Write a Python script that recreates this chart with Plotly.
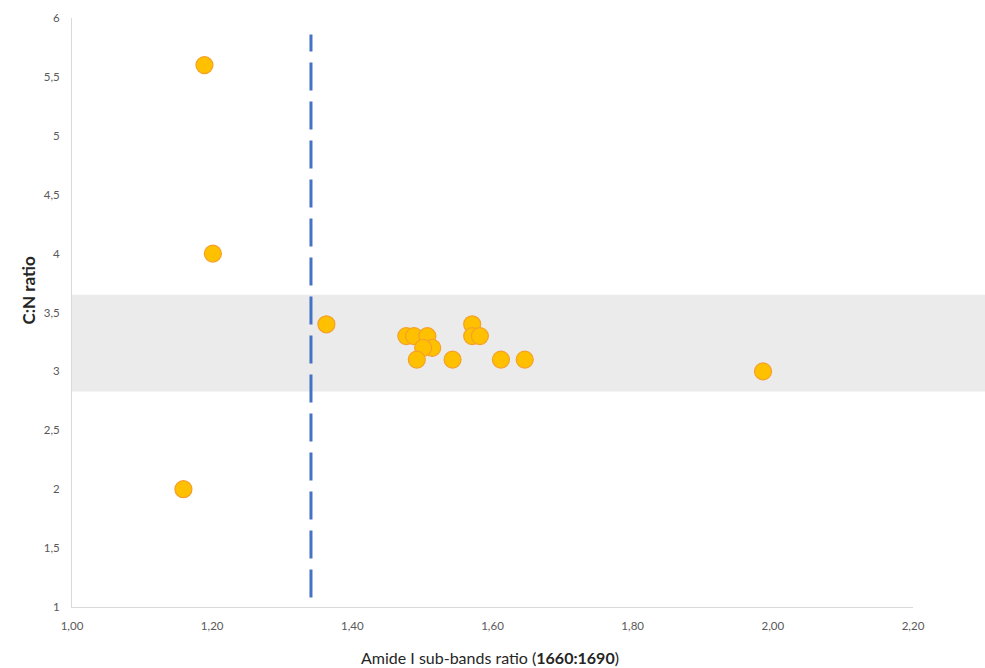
import plotly.graph_objects as go

# Amide I sub-band ratio (1660:1690) vs C:N ratio for each sample
amide_ratio = [1.189, 1.201, 1.159, 1.363, 1.477, 1.488, 1.507, 1.514, 1.501,
               1.492, 1.543, 1.571, 1.571, 1.582, 1.612, 1.646, 1.986]
cn_ratio = [5.6, 4.0, 2.0, 3.4, 3.3, 3.3, 3.3, 3.2, 3.2,
            3.1, 3.1, 3.4, 3.3, 3.3, 3.1, 3.1, 3.0]

# Accepted C:N range for well-preserved collagen (shaded band)
cn_band = [2.83, 3.65]

# Threshold on the amide I ratio (dashed vertical line)
threshold_x = [1.341, 1.341]
threshold_y = [1.08, 5.86]

x_range = [1.0, 2.2]
y_range = [1.0, 6.0]

fig = go.Figure()

fig.add_trace(go.Scatter(
    x=threshold_x, y=threshold_y, mode="lines",
    line=dict(color="#4472C4", width=3, dash="28px,11px"),
    hoverinfo="skip", showlegend=False,
))

fig.add_trace(go.Scatter(
    x=amide_ratio, y=cn_ratio, mode="markers",
    marker=dict(size=17, color="#FFC000",
                line=dict(color="#F4A029", width=1.2)),
    showlegend=False,
))

# Band spans the full width of the page to the right edge
band_y0 = (cn_band[0] - y_range[0]) / (y_range[1] - y_range[0])
band_y1 = (cn_band[1] - y_range[0]) / (y_range[1] - y_range[0])
fig.add_shape(type="rect", xref="paper", yref="paper",
              x0=0.0, x1=1.09, y0=band_y0, y1=band_y1,
              fillcolor="#EBEBEB", line=dict(width=0), layer="below")

title_font = dict(family="Lato, 'Open Sans', sans-serif", size=16, color="#262626")

# Axis titles as annotations so the plot area keeps fixed margins
fig.add_annotation(
    text="<b>C:N ratio</b>", textangle=-90,
    xref="paper", yref="paper", x=0, y=0.5,
    xanchor="center", yanchor="middle", xshift=-44, yshift=22,
    showarrow=False, font=dict(title_font, size=17),
)
fig.add_annotation(
    text="Amide I sub-bands ratio (<b>1660:1690</b>)",
    xref="paper", yref="paper", x=0.497, y=0,
    xanchor="center", yanchor="middle", yshift=-50,
    showarrow=False, font=title_font,
)

tick_font = dict(family="Lato, 'Open Sans', sans-serif", size=11.5, color="#595959")

fig.update_layout(
    width=985, height=668,
    margin=dict(l=72, r=72, t=18, b=61),
    paper_bgcolor="white", plot_bgcolor="rgba(0,0,0,0)",
    separators=", ",
    font=dict(family="Lato, 'Open Sans', sans-serif"),
    xaxis=dict(
        range=x_range, dtick=0.2, tickformat=".2f", automargin=False,
        showgrid=False, zeroline=False,
        showline=True, linecolor="#D9D9D9", linewidth=1,
        ticks="", tickfont=tick_font, ticklabelstandoff=8,
    ),
    yaxis=dict(
        range=y_range, dtick=0.5, automargin=False,
        showgrid=False, zeroline=False,
        showline=True, linecolor="#D9D9D9", linewidth=1,
        ticks="", tickfont=tick_font, ticklabelstandoff=9,
    ),
)

fig.write_html("out.html")
